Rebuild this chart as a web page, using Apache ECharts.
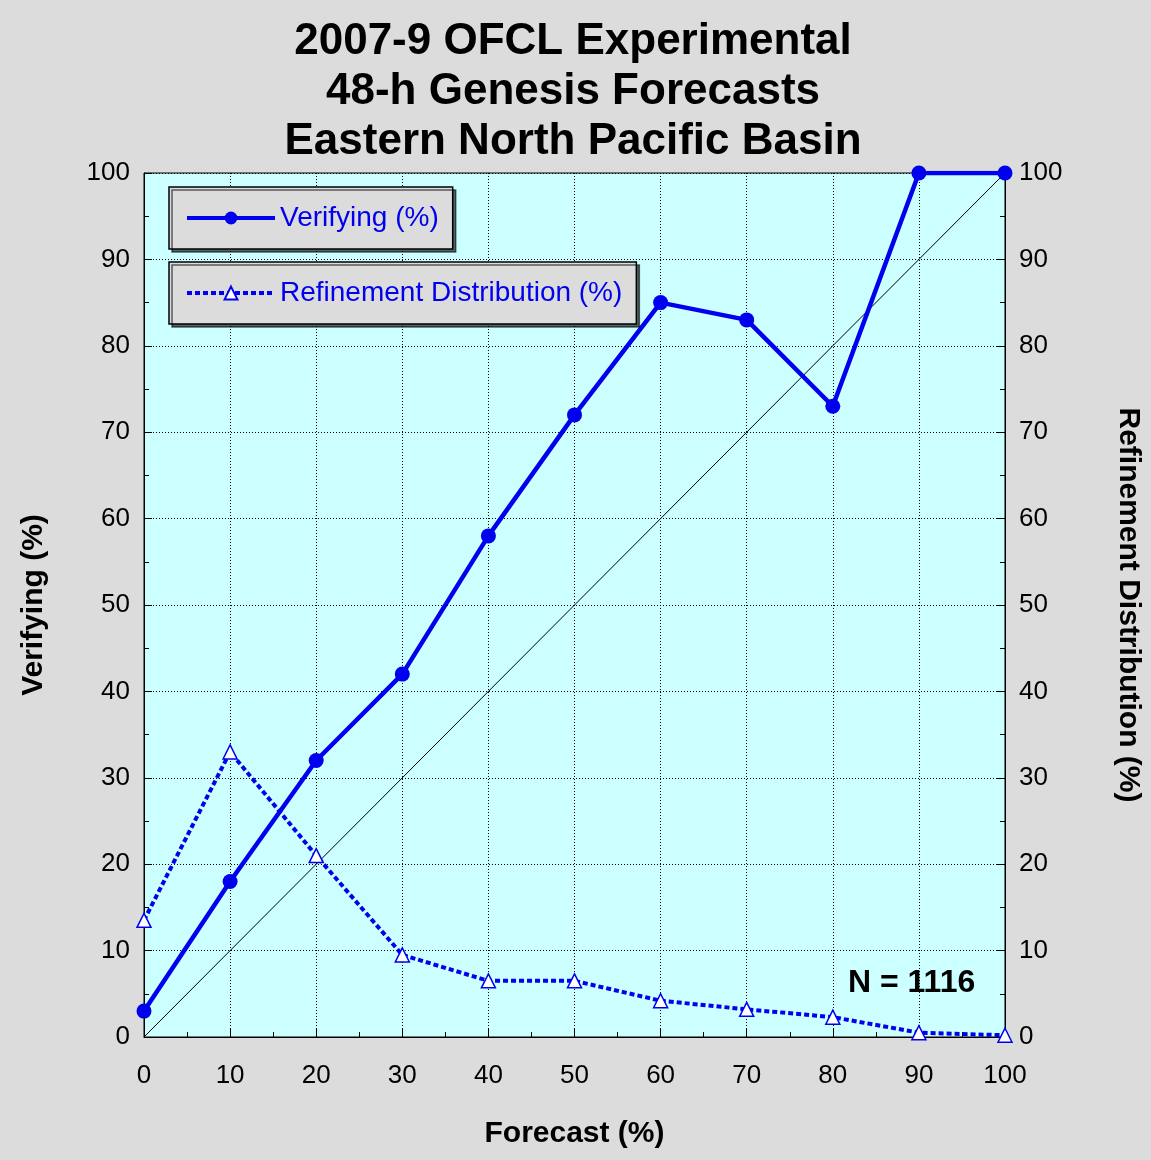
<!DOCTYPE html>
<html><head><meta charset="utf-8">
<script src="https://cdn.jsdelivr.net/npm/echarts@6/dist/echarts.min.js"></script>
<style>html,body{margin:0;padding:0;background:#dcdcdc}#c{width:1151px;height:1160px}</style>
</head><body><div id="c"></div>
<script>
// forecast bins and values
let forecast = [0, 10, 20, 30, 40, 50, 60, 70, 80, 90, 100];
let verifying = [3, 18, 32, 42, 58, 72, 85, 83, 73, 100, 100];
let refinement = [13.5, 33, 21, 9.5, 6.5, 6.5, 4.2, 3.2, 2.3, 0.5, 0.2];
let titleLines = ["2007-9 OFCL Experimental", "48-h Genesis Forecasts", "Eastern North Pacific Basin"];

const font = "Liberation Sans, Arial, sans-serif";
const blue = "#0000ee";

let axisCommon = {
    type: "value", min: 0, max: 100, interval: 10,
    axisLine: { show: true, lineStyle: { color: "#000" } },
    axisTick: { show: true, inside: true, length: 8, lineStyle: { color: "#000" } },
    minorTick: { show: true, splitNumber: 2, length: 5, lineStyle: { color: "#000" } },
    axisLabel: { color: "#000", fontSize: 26, fontFamily: font, margin: 14 },
    nameTextStyle: { color: "#000", fontSize: 30, fontWeight: "bold", fontFamily: font },
    nameLocation: "middle"
};

let legendCommon = {
    orient: "vertical", backgroundColor: "#dcdcdc", borderColor: "#000", borderWidth: 1.5,
    shadowColor: "rgba(0,0,0,0.6)", shadowOffsetX: 3, shadowOffsetY: 3, shadowBlur: 0,
    itemWidth: 88, itemHeight: 16, itemGap: 8, padding: [17, 14, 17, 16],
    textStyle: { color: blue, fontSize: 28, fontFamily: font }
};

let chart = echarts.init(document.getElementById("c"));
chart.setOption({
    backgroundColor: "#dcdcdc",
    animation: false,
    title: {
        text: titleLines.join("\n"), left: 568, top: 12, textAlign: "center",
        textStyle: { fontSize: 44, fontWeight: "bold", fontFamily: font, color: "#000", lineHeight: 50 }
    },
    legend: [
        Object.assign({ data: [{ name: "Verifying (%)", lineStyle: { width: 4 } }], left: 169, top: 187 }, legendCommon),
        Object.assign({ data: [{ name: "Refinement Distribution (%)", lineStyle: { width: 4 } }], left: 169, top: 262 }, legendCommon)
    ],
    grid: { left: 144, right: 145, top: 173, bottom: 123, show: true, backgroundColor: "#ccffff", borderColor: "#000", borderWidth: 1 },
    xAxis: Object.assign({}, axisCommon, {
        name: "Forecast (%)", nameGap: 82, axisLabel: Object.assign({}, axisCommon.axisLabel, { margin: 26 }),
        splitLine: { show: true, lineStyle: { color: "#000", type: [1, 2], width: 1 } }
    }),
    yAxis: [
        Object.assign({}, axisCommon, {
            name: "Verifying (%)", nameGap: 95,
            splitLine: { show: true, lineStyle: { color: "#000", type: [1, 2], width: 1 } }
        }),
        Object.assign({}, axisCommon, {
            position: "right", name: "Refinement Distribution (%)", nameGap: 108, nameRotate: -90,
            splitLine: { show: false }
        })
    ],
    series: [
        {
            name: "diag", type: "line", data: [[0, 0], [100, 100]], symbol: "none",
            lineStyle: { color: "#000", width: 1 }, silent: true
        },
        {
            name: "Verifying (%)", type: "line", yAxisIndex: 0,
            data: forecast.map((f, i) => [f, verifying[i]]),
            symbol: "circle", symbolSize: 15, itemStyle: { color: blue },
            lineStyle: { color: blue, width: 4.5 }
        },
        {
            name: "Refinement Distribution (%)", type: "line", yAxisIndex: 1,
            data: forecast.map((f, i) => [f, refinement[i]]),
            symbol: "triangle", symbolSize: 14,
            itemStyle: { color: "#fff", borderColor: blue, borderWidth: 1.5 },
            lineStyle: { color: blue, width: 4, type: [5, 3] }
        }
    ],
    graphic: [{
        type: "text", left: 848, top: 967,
        style: { text: "N = 1116", fontSize: 32, fontWeight: "bold", fontFamily: font, fill: "#000" }
    }]
});
</script></body></html>
